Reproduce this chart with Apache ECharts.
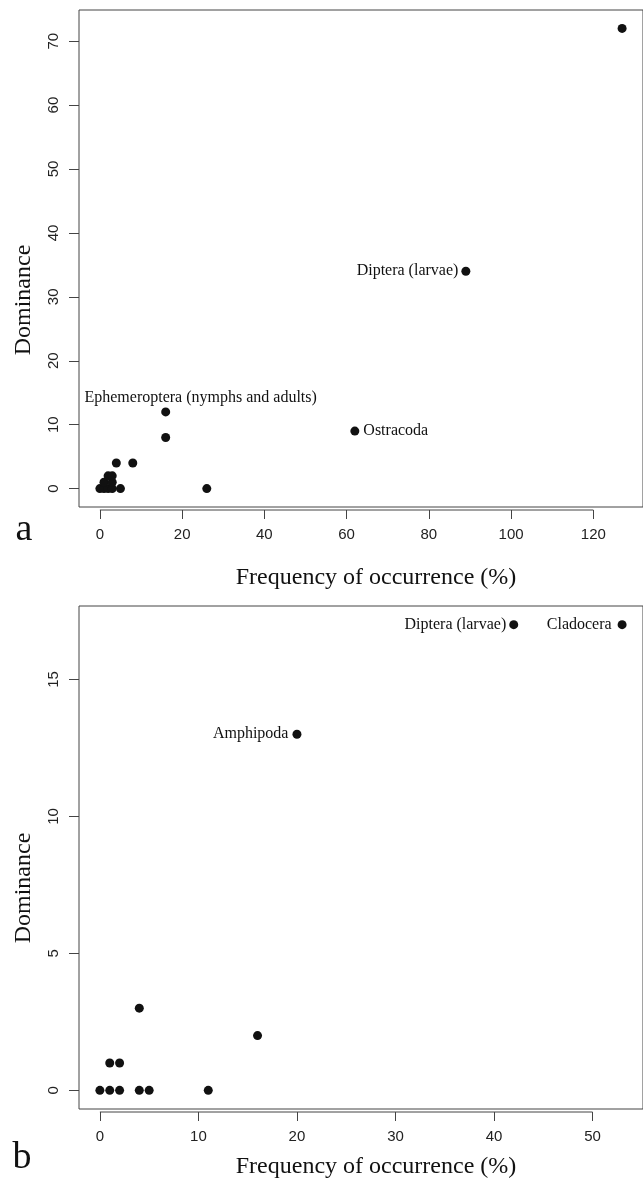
<!DOCTYPE html>
<html>
<head>
<meta charset="utf-8">
<script src="https://cdn.jsdelivr.net/npm/echarts@6/dist/echarts.min.js"></script>
<style>
  html, body { margin: 0; padding: 0; background: #fff; }
  #main { width: 643px; height: 1190px; }
</style>
</head>
<body>
<div id="main"></div>
<script>
// panel a
var freqA = [0, 1, 2, 3, 5, 1, 3, 2, 3, 4, 8, 16, 16, 26, 62, 89, 127]
var domA = [0, 0, 0, 0, 0, 1, 1, 2, 2, 4, 4, 8, 12, 0, 9, 34, 72]
var namesA = ['', '', '', '', '', '', '', '', '', '', '', '', 'Ephemeroptera (nymphs and adults)', '', 'Ostracoda', 'Diptera (larvae)', '']
var xTicksA = [0, 20, 40, 60, 80, 100, 120]
var yTicksA = [0, 10, 20, 30, 40, 50, 60, 70]

// panel b
var freqB = [0, 1, 2, 4, 5, 11, 1, 2, 4, 16, 20, 42, 53]
var domB = [0, 0, 0, 0, 0, 0, 1, 1, 3, 2, 13, 17, 17]
var namesB = ['', '', '', '', '', '', '', '', '', '', 'Amphipoda', 'Diptera (larvae)', 'Cladocera']
var xTicksB = [0, 10, 20, 30, 40, 50]
var yTicksB = [0, 5, 10, 15]

var SANS = 'Liberation Sans'
var SERIF = 'Liberation Serif'
var INK = '#111'
var LINE = '#444'

// R style range: data range widened by 4% each side
function rRange (arr) {
  var lo = Math.min.apply(null, arr)
  var hi = Math.max.apply(null, arr)
  var d = (hi - lo) * 0.04
  return [lo - d, hi + d]
}

// label placement per named point
var labelPos = {
  'Ephemeroptera (nymphs and adults)': { position: 'top', offset: [35, 0], distance: 2 },
  'Ostracoda': { position: 'right', distance: 4 },
  'Diptera (larvae)': { position: 'left', distance: 3 },
  'Amphipoda': { position: 'left', distance: 4 },
  'Cladocera': { position: 'left', distance: 6 }
}

function buildPoints (xs, ys, names) {
  return xs.map(function (x, i) {
    var p = { value: [x, ys[i]] }
    if (names[i]) {
      var lp = labelPos[names[i]]
      p.label = {
        show: true,
        formatter: names[i],
        position: lp.position,
        distance: lp.distance,
        offset: lp.offset || [0, 0],
        fontFamily: SERIF,
        fontSize: 16,
        color: INK
      }
    }
    return p
  })
}

function xAxisOf (grid, range, ticks) {
  return {
    type: 'value',
    gridIndex: grid,
    min: range[0],
    max: range[1],
    offset: 3,
    splitLine: { show: false },
    axisLine: { show: false, onZero: false },
    axisTick: { show: true, length: 9, customValues: ticks, lineStyle: { color: LINE } },
    axisLabel: { customValues: ticks, margin: 17, fontFamily: SANS, fontSize: 15, color: '#222' }
  }
}

function yAxisOf (grid, range, ticks) {
  return {
    type: 'value',
    gridIndex: grid,
    min: range[0],
    max: range[1],
    splitLine: { show: false },
    axisLine: { show: false, onZero: false },
    axisTick: { show: true, length: 10, customValues: ticks, lineStyle: { color: LINE } },
    axisLabel: { customValues: ticks, rotate: 90, margin: 18, fontFamily: SANS, fontSize: 15, color: '#222' }
  }
}

var xrA = rRange(freqA)
var yrA = rRange(domA)
var xrB = rRange(freqB)
var yrB = rRange(domB)

var titleStyle = { fontFamily: SERIF, fontSize: 24, fill: INK }

var option = {
  animation: false,
  backgroundColor: '#fff',
  grid: [
    { left: 79, top: 10, right: -1, height: 497, show: true, borderColor: LINE, borderWidth: 1 },
    { left: 79, top: 606, right: -1, height: 503, show: true, borderColor: LINE, borderWidth: 1 }
  ],
  xAxis: [xAxisOf(0, xrA, xTicksA), xAxisOf(1, xrB, xTicksB)],
  yAxis: [yAxisOf(0, yrA, yTicksA), yAxisOf(1, yrB, yTicksB)],
  series: [
    {
      type: 'scatter',
      xAxisIndex: 0,
      yAxisIndex: 0,
      symbolSize: 9,
      itemStyle: { color: INK, opacity: 1 },
      data: buildPoints(freqA, domA, namesA)
    },
    {
      type: 'scatter',
      xAxisIndex: 1,
      yAxisIndex: 1,
      symbolSize: 9,
      itemStyle: { color: INK, opacity: 1 },
      data: buildPoints(freqB, domB, namesB)
    }
  ]
}

var chart = echarts.init(document.getElementById('main'), null, { renderer: 'canvas' })
chart.setOption(option)

// R draws the x axis line only between first and last tick, slightly below the box
function axisSegment (idx, ticks, yMin) {
  var x0 = chart.convertToPixel({ xAxisIndex: idx }, ticks[0])
  var x1 = chart.convertToPixel({ xAxisIndex: idx }, ticks[ticks.length - 1])
  var yb = chart.convertToPixel({ yAxisIndex: idx }, yMin) + 3
  return {
    type: 'line',
    shape: { x1: x0, y1: yb, x2: x1, y2: yb },
    style: { stroke: LINE, lineWidth: 1 }
  }
}

chart.setOption({
  graphic: [
    axisSegment(0, xTicksA, yrA[0]),
    axisSegment(1, xTicksB, yrB[0]),
    { type: 'text', x: 376, y: 578, style: Object.assign({ text: 'Frequency of occurrence (%)', align: 'center', verticalAlign: 'middle' }, titleStyle) },
    { type: 'text', x: 376, y: 1167, style: Object.assign({ text: 'Frequency of occurrence (%)', align: 'center', verticalAlign: 'middle' }, titleStyle) },
    { type: 'text', x: 24, y: 300, rotation: Math.PI / 2, style: Object.assign({ text: 'Dominance', align: 'center', verticalAlign: 'middle' }, titleStyle) },
    { type: 'text', x: 24, y: 888, rotation: Math.PI / 2, style: Object.assign({ text: 'Dominance', align: 'center', verticalAlign: 'middle' }, titleStyle) },
    { type: 'text', x: 24, y: 530, style: { text: 'a', fontFamily: SERIF, fontSize: 38, fill: INK, align: 'center', verticalAlign: 'middle' } },
    { type: 'text', x: 22, y: 1158, style: { text: 'b', fontFamily: SERIF, fontSize: 38, fill: INK, align: 'center', verticalAlign: 'middle' } }
  ]
})
</script>
</body>
</html>
